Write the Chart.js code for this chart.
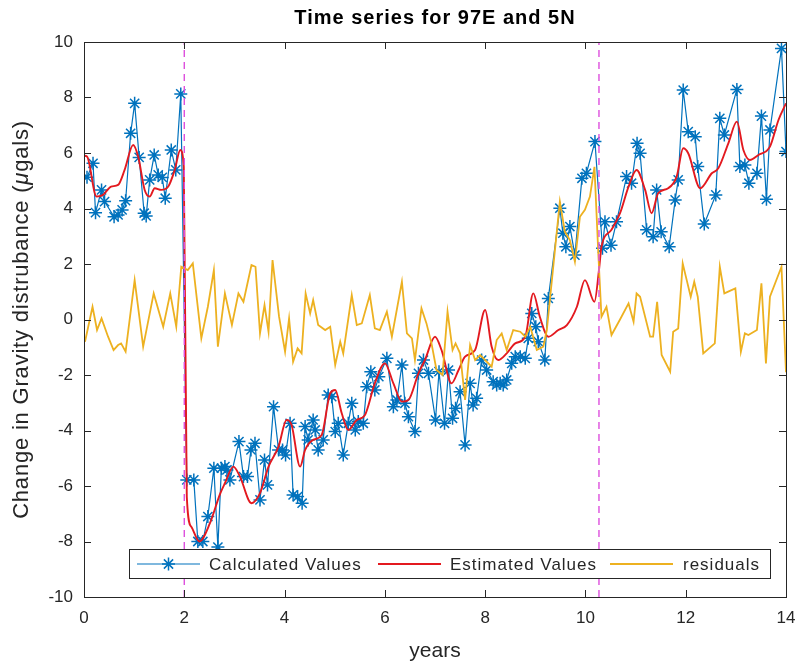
<!DOCTYPE html>
<html>
<head>
<meta charset="utf-8">
<title>Time series for 97E and 5N</title>
<script src="https://cdn.jsdelivr.net/npm/chart.js@4.4.0/dist/chart.umd.min.js"></script>
<style>
  body { margin: 0; background: #ffffff; }
  #wrap { width: 799px; height: 665px; }
</style>
</head>
<body>
<div id="wrap"><canvas id="seriesChart" width="799" height="665"></canvas></div>
<script>
// Calculated values (monthly solutions)
const calcYears = [
  0.06, 0.18, 0.23, 0.35, 0.41, 0.60, 0.68, 0.76, 0.83, 0.93, 1.01, 1.10, 1.20, 1.24, 1.31, 1.40,
  1.48, 1.56, 1.62, 1.74, 1.83, 1.93, 2.05, 2.19, 2.27, 2.37, 2.47, 2.59, 2.67, 2.74, 2.81,
  2.85, 2.91, 3.09, 3.18, 3.26, 3.33, 3.41, 3.51, 3.60, 3.66, 3.78, 3.88, 3.96, 4.02, 4.11, 4.17,
  4.26, 4.35, 4.41, 4.47, 4.57, 4.61, 4.67, 4.77, 4.87, 4.94, 5.01, 5.07, 5.17, 5.27, 5.34, 5.41,
  5.47, 5.57, 5.64, 5.72, 5.80, 5.88, 6.04, 6.17, 6.24, 6.34, 6.40, 6.47, 6.60, 6.67, 6.77, 6.87,
  7.01, 7.08, 7.19, 7.27, 7.35, 7.41, 7.50, 7.60, 7.70, 7.76, 7.83, 7.93, 8.03, 8.16, 8.23, 8.30,
  8.36, 8.43, 8.53, 8.60, 8.70, 8.80, 8.86, 8.93, 9.01, 9.06, 9.19, 9.26, 9.49, 9.55, 9.61, 9.69,
  9.79, 9.93, 10.02, 10.19, 10.34, 10.39, 10.51, 10.62, 10.82, 10.92, 11.03, 11.09, 11.22, 11.35,
  11.42, 11.51, 11.67, 11.79, 11.85, 11.95, 12.05, 12.19, 12.24, 12.37, 12.60, 12.68, 12.77, 13.02,
  13.08, 13.18, 13.26, 13.42, 13.51, 13.61, 13.68, 13.91, 14.0
];
const calcValues = [
  5.13, 5.63, 3.85, 4.67, 4.25, 3.70, 3.77, 3.95, 4.28, 6.71, 7.79, 5.84, 3.83, 3.73, 5.03, 5.93,
  5.21, 5.12, 4.37, 6.11, 5.39, 8.13, -5.78, -5.78, -8.0, -8.0, -7.1, -5.36, -8.2, -5.36, -5.3,
  -5.42, -5.78, -4.40, -5.66, -5.66, -4.70, -4.46, -6.50, -5.06, -5.96, -3.14, -4.70, -4.70, -4.88, -3.74, -6.32,
  -6.38, -6.62, -3.86, -4.34, -3.62, -3.98, -4.70, -4.34, -2.72, -2.78, -4.04, -3.74, -4.88, -3.74, -3.02, -3.98,
  -3.68, -3.74, -2.42, -1.88, -2.54, -2.06, -1.40, -3.14, -2.90, -1.64, -3.02, -3.50, -4.04, -1.94, -1.46, -1.94,
  -3.62, -1.88, -3.74, -1.82, -3.56, -3.20, -2.60, -4.52, -2.30, -3.08, -2.84, -1.46, -1.82, -2.24, -2.36, -2.30,
  -2.36, -2.18, -1.58, -1.34, -1.34, -1.40, -0.68, 0.22, -0.26, -0.80, -1.46, 0.76, 4.01, 3.11, 2.62, 3.35,
  2.32, 5.09, 5.27, 6.41, 2.57, 3.52, 2.68, 3.52, 5.15, 4.91, 6.35, 5.99, 3.23, 2.98,
  4.67, 3.16, 2.62, 4.31, 5.03, 8.27, 6.77, 6.59, 5.51, 3.44, 4.49, 7.25, 6.65, 8.29,
  5.51, 5.57, 4.91, 5.27, 7.33, 4.33, 6.83, 9.77, 6.05
];

// Estimated values (fitted model)
const estYears = [
  0.0, 0.06, 0.25, 0.38, 0.54, 0.68, 0.81, 0.98, 1.08, 1.21, 1.31, 1.41, 1.54, 1.68, 1.81, 1.92,
  1.99, 2.05, 2.14, 2.30, 2.51, 2.71, 2.81, 2.98, 3.11, 3.34, 3.51, 3.68, 3.88, 4.04, 4.14, 4.31,
  4.41, 4.57, 4.74, 4.91, 5.01, 5.14, 5.27, 5.44, 5.60, 5.80, 6.00, 6.17, 6.34, 6.47, 6.67, 6.80,
  7.00, 7.13, 7.33, 7.47, 7.60, 7.80, 8.00, 8.13, 8.26, 8.43, 8.60, 8.80, 8.96, 9.09, 9.26, 9.46,
  9.63, 9.83, 9.99, 10.18, 10.27, 10.32, 10.52, 10.69, 10.86, 11.02, 11.19, 11.32, 11.45, 11.65,
  11.82, 11.95, 12.05, 12.29, 12.52, 12.65, 12.85, 13.02, 13.15, 13.28, 13.45, 13.68, 13.85, 14.0
];
const estValues = [
  5.9, 5.87, 4.43, 4.49, 4.79, 4.85, 5.39, 6.29, 5.87, 4.67, 4.43, 4.73, 4.67, 4.79, 5.39, 6.11,
  5.5, -6.39, -7.47, -8.0, -7.35, -6.3, -5.9, -5.30, -5.66, -6.62, -6.26, -5.30, -4.58, -3.62, -3.80, -5.30,
  -4.70, -4.34, -4.16, -2.66, -2.54, -3.38, -3.98, -3.62, -3.45, -2.30, -1.58, -2.30, -2.96, -2.90, -1.94, -1.46,
  -0.62, -1.10, -2.30, -1.82, -1.34, -1.10, 0.34, -0.98, -1.46, -1.22, -0.86, -0.62, 0.94, 0.10, -0.62, -0.38,
  -0.20, 0.46, 1.42, 0.64, 1.78, 2.62, 3.23, 3.83, 4.79, 5.39, 4.67, 3.83, 4.55, 4.73,
  5.15, 6.17, 5.99, 4.73, 5.27, 5.45, 6.35, 7.13, 6.11, 5.75, 5.93, 6.23, 7.19, 7.79
];

// Residuals
const resYears = [
  0.02, 0.17, 0.26, 0.35, 0.48, 0.59, 0.68, 0.74, 0.83, 1.01, 1.18, 1.39, 1.58, 1.72, 1.84, 1.94,
  2.07, 2.17, 2.34, 2.47, 2.59, 2.67, 2.81, 2.95, 3.08, 3.18, 3.34, 3.42, 3.51, 3.60, 3.68, 3.76,
  3.89, 4.01, 4.09, 4.17, 4.26, 4.34, 4.42, 4.51, 4.57, 4.67, 4.81, 4.91, 5.01, 5.11, 5.17, 5.34,
  5.44, 5.54, 5.70, 5.80, 5.90, 6.04, 6.14, 6.34, 6.44, 6.54, 6.60, 6.73, 6.83, 6.93, 7.03, 7.15,
  7.25, 7.35, 7.41, 7.50, 7.60, 7.70, 7.80, 7.90, 8.00, 8.13, 8.23, 8.33, 8.43, 8.56, 8.70, 8.80,
  8.90, 9.03, 9.16, 9.23, 9.49, 9.59, 9.69, 9.79, 9.89, 9.99, 10.09, 10.18, 10.26, 10.32, 10.42,
  10.52, 10.69, 10.86, 10.96, 11.02, 11.09, 11.29, 11.35, 11.43, 11.52, 11.69, 11.75, 11.85, 11.94,
  12.02, 12.10, 12.17, 12.24, 12.35, 12.58, 12.68, 12.77, 12.99, 13.10, 13.18, 13.25, 13.42, 13.51,
  13.60, 13.68, 13.91, 14.0
];
const resValues = [
  -0.8, 0.46, -0.38, 0.04, -0.62, -1.10, -0.92, -0.86, -1.16, 1.42, -0.98, 0.94, -0.26, 0.94, -0.26, 1.90,
  1.78, 2.02, -0.68, 0.46, 1.78, -0.98, 0.94, -0.20, 0.94, 0.64, 1.96, 1.90, -0.50, 0.52, -0.44, 2.14,
  0.10, -1.16, 0.04, -1.52, -1.04, -1.22, 0.94, 0.22, 0.70, -0.20, -0.38, -0.26, -1.64, -0.80, -1.22, 0.88,
  -0.20, -0.14, 0.88, -0.32, -0.38, 0.28, -0.62, 1.36, -0.50, -0.68, -1.46, 0.40, -0.14, -0.86, -1.82, -2.00,
  0.28, -1.10, -0.86, -1.22, -2.90, -0.92, -1.46, -1.28, -1.46, -1.70, -0.74, -0.50, -1.10, -0.38, -0.44, -0.62,
  -0.26, -1.10, -0.98, -0.38, 4.25, 3.16, 2.86, 2.08, 3.70, 3.95, 4.43, 5.5, 2.26, 0.10, 0.46,
  -0.56, 0.0, 0.58, -0.08, 0.94, 0.82, -0.62, -0.62, 0.64, -1.28, -1.88, -0.44, -0.32, 2.02,
  1.42, 0.82, 1.36, 0.82, -1.22, -0.86, 1.90, 0.94, 1.12, -1.16, -0.50, -0.56, -0.38, 1.30,
  -1.58, 0.82, 1.90, -1.9
];

// Epochs of the step changes (vertical dashed markers)
const changeYears = [2.0, 10.27];

const xTicks = [0, 2, 4, 6, 8, 10, 12, 14];
const yTicks = [-10, -8, -6, -4, -2, 0, 2, 4, 6, 8, 10];

const axisColor = '#262626';
const fontFamily = '"Liberation Sans", Arial, Helvetica, sans-serif';

function toPoints(xs, ys) {
  return xs.map((x, i) => ({ x: x, y: ys[i] }));
}

const datasets = [];
changeYears.forEach(yr => {
  datasets.push({
    label: 'change',
    data: [{ x: yr, y: yTicks[0] }, { x: yr, y: yTicks[yTicks.length - 1] }],
    borderColor: '#dd4fdd',
    borderWidth: 1.4,
    borderDash: [7, 5],
    pointRadius: 0,
    order: -1
  });
});
datasets.push({
  label: 'residuals',
  data: toPoints(resYears, resValues),
  borderColor: '#EDB120',
  borderWidth: 1.8,
  pointRadius: 0,
  tension: 0,
  order: 0
});
datasets.push({
  label: 'Estimated Values',
  data: toPoints(estYears, estValues),
  borderColor: '#E3191F',
  borderWidth: 1.9,
  pointRadius: 0,
  tension: 0.35,
  cubicInterpolationMode: 'monotone',
  order: 1
});
datasets.push({
  label: 'Calculated Values',
  data: toPoints(calcYears, calcValues),
  borderColor: '#0072BD',
  borderWidth: 1.2,
  pointStyle: 'star',
  pointRadius: 6.5,
  pointBorderWidth: 1.5,
  pointBorderColor: '#0072BD',
  pointBackgroundColor: '#0072BD',
  tension: 0,
  order: 2
});

// Frame, inward ticks, titles and the legend box
const decorations = {
  id: 'decorations',
  beforeDraw(chart) {
    const ctx = chart.ctx;
    ctx.save();
    ctx.fillStyle = '#ffffff';
    ctx.fillRect(0, 0, chart.width, chart.height);
    ctx.restore();
  },
  afterDraw(chart) {
    const ctx = chart.ctx;
    const a = chart.chartArea;
    const xs = chart.scales.x;
    const ys = chart.scales.y;
    ctx.save();

    // axes box
    ctx.strokeStyle = axisColor;
    ctx.lineWidth = 1;
    ctx.strokeRect(a.left + 0.5, a.top + 0.5, a.right - a.left, a.bottom - a.top);

    // inward tick marks on all four sides
    const tl = 7;
    ctx.beginPath();
    xTicks.forEach(v => {
      const px = Math.round(xs.getPixelForValue(v)) + 0.5;
      ctx.moveTo(px, a.bottom); ctx.lineTo(px, a.bottom - tl);
      ctx.moveTo(px, a.top); ctx.lineTo(px, a.top + tl);
    });
    yTicks.forEach(v => {
      const py = Math.round(ys.getPixelForValue(v)) + 0.5;
      ctx.moveTo(a.left, py); ctx.lineTo(a.left + tl, py);
      ctx.moveTo(a.right, py); ctx.lineTo(a.right - tl, py);
    });
    ctx.stroke();

    // title
    const cx = (a.left + a.right) / 2;
    ctx.fillStyle = '#000000';
    ctx.font = 'bold 20px ' + fontFamily;
    ctx.letterSpacing = '1px';
    ctx.textAlign = 'center';
    ctx.textBaseline = 'middle';
    ctx.fillText('Time series for 97E and 5N', cx, 18);

    // x axis title
    ctx.fillStyle = axisColor;
    ctx.letterSpacing = '0px';
    ctx.font = '21px ' + fontFamily;
    ctx.fillText('years', cx, 651);

    // y axis title with italic mu
    ctx.letterSpacing = '0.8px';
    const parts = [
      { t: 'Change in Gravity distrubance (', f: '22px ' + fontFamily },
      { t: '\u03bc', f: 'italic 22px ' + fontFamily },
      { t: 'gals)', f: '22px ' + fontFamily }
    ];
    let total = 0;
    parts.forEach(p => { ctx.font = p.f; p.w = ctx.measureText(p.t).width; total += p.w; });
    ctx.translate(22, (a.top + a.bottom) / 2);
    ctx.rotate(-Math.PI / 2);
    ctx.textAlign = 'left';
    let off = -total / 2;
    parts.forEach(p => { ctx.font = p.f; ctx.fillText(p.t, off, 0); off += p.w; });
    ctx.setTransform(1, 0, 0, 1, 0, 0);

    // legend
    const lx = 129, ly = 549, lw = 641, lh = 29;
    ctx.fillStyle = '#ffffff';
    ctx.fillRect(lx, ly, lw, lh);
    ctx.strokeStyle = axisColor;
    ctx.lineWidth = 1;
    ctx.strokeRect(lx + 0.5, ly + 0.5, lw, lh);
    const my = ly + lh / 2 + 0.5;
    const items = [
      { label: 'Calculated Values', color: '#0072BD', x0: 137, x1: 200, tx: 209, star: true, w: 1.2 },
      { label: 'Estimated Values', color: '#E3191F', x0: 378, x1: 441, tx: 450, star: false, w: 1.9 },
      { label: 'residuals', color: '#EDB120', x0: 610, x1: 673, tx: 683, star: false, w: 1.8 }
    ];
    ctx.font = '17px ' + fontFamily;
    ctx.letterSpacing = '1px';
    ctx.textBaseline = 'middle';
    items.forEach(it => {
      ctx.strokeStyle = it.color;
      ctx.lineWidth = it.w;
      ctx.beginPath();
      ctx.moveTo(it.x0, my); ctx.lineTo(it.x1, my);
      ctx.stroke();
      if (it.star) {
        ctx.lineWidth = 1.5;
        Chart.helpers.drawPoint(ctx, { pointStyle: 'star', radius: 6.5, borderWidth: 1.5 },
          (it.x0 + it.x1) / 2, my);
      }
      ctx.fillStyle = axisColor;
      ctx.fillText(it.label, it.tx, my + 1);
    });
    ctx.restore();
  }
};

const ctx = document.getElementById('seriesChart').getContext('2d');
const seriesChart = new Chart(ctx, {
  type: 'line',
  data: { datasets: datasets },
  options: {
    responsive: false,
    animation: false,
    layout: { padding: { top: 42, right: 13, left: 0, bottom: 0 } },
    plugins: {
      legend: { display: false },
      title: { display: false },
      tooltip: { enabled: false }
    },
    scales: {
      x: {
        type: 'linear',
        min: 0,
        max: 14,
        afterFit(scale) {
          scale.height = 68;
          scale.paddingLeft = 0;
          scale.paddingRight = 0;
        },
        afterBuildTicks(scale) { scale.ticks = xTicks.map(v => ({ value: v })); },
        grid: { display: false, drawTicks: false },
        border: { display: false },
        ticks: {
          color: axisColor,
          padding: 11,
          maxRotation: 0,
          font: { family: fontFamily, size: 17 }
        }
      },
      y: {
        type: 'linear',
        min: -10,
        max: 10,
        afterFit(scale) {
          scale.width = 84;
          scale.paddingTop = 0;
          scale.paddingBottom = 0;
        },
        afterBuildTicks(scale) { scale.ticks = yTicks.map(v => ({ value: v })); },
        grid: { display: false, drawTicks: false },
        border: { display: false },
        ticks: {
          color: axisColor,
          padding: 11,
          font: { family: fontFamily, size: 17 }
        }
      }
    }
  },
  plugins: [decorations]
});
</script>
</body>
</html>
